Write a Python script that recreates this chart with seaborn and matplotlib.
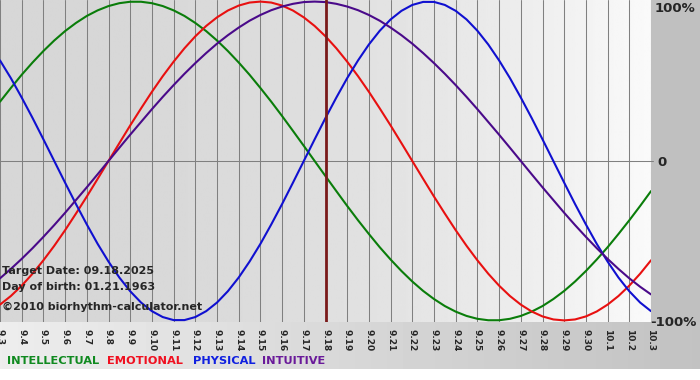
import numpy as np
import pandas as pd
import seaborn as sns
import matplotlib.pyplot as plt

# days shown on the x axis (Sep 3 .. Oct 3)
dates = ["9.3", "9.4", "9.5", "9.6", "9.7", "9.8", "9.9", "9.10", "9.11", "9.12",
         "9.13", "9.14", "9.15", "9.16", "9.17", "9.18", "9.19", "9.20", "9.21",
         "9.22", "9.23", "9.24", "9.25", "9.26", "9.27", "9.28", "9.29", "9.30",
         "10.1", "10.2", "10.3"]

# cycle values in percent, read every half day from 9.3 to 10.3
intellectual = [37.2, 45.8, 54.1, 61.8, 69.0, 75.6, 81.5, 86.6, 91.0, 94.5, 97.2, 99.0,
                99.9, 99.9, 99.0, 97.2, 94.5, 91.0, 86.6, 81.5, 75.6, 69.0, 61.8, 54.1,
                45.8, 37.2, 28.2, 18.9, 9.5, 0, -9.5, -18.9, -28.2, -37.2, -45.8, -54.1,
                -61.8, -69.0, -75.6, -81.5, -86.6, -91.0, -94.5, -97.2, -99.0, -99.9,
                -99.9, -99.0, -97.2, -94.5, -91.0, -86.6, -81.5, -75.6, -69.0, -61.8,
                -54.1, -45.8, -37.2, -28.2, -18.9]
emotional = [-90.1, -84.7, -78.2, -70.7, -62.3, -53.2, -43.4, -33.0, -22.3, -11.2, 0,
             11.2, 22.3, 33.0, 43.4, 53.2, 62.3, 70.7, 78.2, 84.7, 90.1, 94.4, 97.5, 99.4,
             100, 99.4, 97.5, 94.4, 90.1, 84.7, 78.2, 70.7, 62.3, 53.2, 43.4, 33.0, 22.3,
             11.2, 0, -11.2, -22.3, -33.0, -43.4, -53.2, -62.3, -70.7, -78.2, -84.7,
             -90.1, -94.4, -97.5, -99.4, -100, -99.4, -97.5, -94.4, -90.1, -84.7, -78.2,
             -70.7, -62.3]
physical = [63.1, 52.0, 39.8, 27.0, 13.6, 0, -13.6, -27.0, -39.8, -52.0, -63.1, -73.1,
            -81.7, -88.8, -94.2, -97.9, -99.8, -99.8, -97.9, -94.2, -88.8, -81.7, -73.1,
            -63.1, -52.0, -39.8, -27.0, -13.6, 0, 13.6, 27.0, 39.8, 52.0, 63.1, 73.1,
            81.7, 88.8, 94.2, 97.9, 99.8, 99.8, 97.9, 94.2, 88.8, 81.7, 73.1, 63.1, 52.0,
            39.8, 27.0, 13.6, 0, -13.6, -27.0, -39.8, -52.0, -63.1, -73.1, -81.7, -88.8,
            -94.2]
intuitive = [-73.6, -67.7, -61.4, -54.7, -47.6, -40.2, -32.5, -24.5, -16.5, -8.3, 0, 8.3,
             16.5, 24.5, 32.5, 40.2, 47.6, 54.7, 61.4, 67.7, 73.6, 78.9, 83.7, 88.0, 91.6,
             94.6, 96.9, 98.6, 99.7, 100, 99.7, 98.6, 96.9, 94.6, 91.6, 88.0, 83.7, 78.9,
             73.6, 67.7, 61.4, 54.7, 47.6, 40.2, 32.5, 24.5, 16.5, 8.3, 0, -8.3, -16.5,
             -24.5, -32.5, -40.2, -47.6, -54.7, -61.4, -67.7, -73.6, -78.9, -83.7]

target_day = "9.18"
target_text = "Target Date: 09.18.2025"
birth_text = "Day of birth: 01.21.1963"
credit_text = "\u00a92010 biorhythm-calculator.net"

series_names = ["INTELLECTUAL", "EMOTIONAL", "PHYSICAL", "INTUITIVE"]
line_colors = {"INTELLECTUAL": "#0a7d0a", "EMOTIONAL": "#e81010",
               "PHYSICAL": "#1010d0", "INTUITIVE": "#4a0a8a"}
label_colors = {"INTELLECTUAL": "#108a20", "EMOTIONAL": "#f01020",
                "PHYSICAL": "#1020e0", "INTUITIVE": "#6a1a9a"}

day_idx = list(range(len(dates)))
half_days = np.arange(len(physical)) / 2
df = pd.concat([
    pd.DataFrame({"day": half_days, "value": vals, "series": name})
    for name, vals in zip(series_names, [intellectual, emotional, physical, intuitive])
], ignore_index=True)

sns.set_style("white")
plt.rcParams["font.family"] = ["DejaVu Sans"]

W, H = 700, 380
fig = plt.figure(figsize=(7, 3.8), dpi=100)

# background: gray right margin, gradient strip under the plot
bg = fig.add_axes([0, 0, 1, 1], zorder=-5)
img = np.ones((H, W))
img[:322, 651:] = 0.75
cols = np.linspace(0, 1, W)
img[322:369, :] = 0.93 - 0.17 * cols
bg.imshow(img, cmap="gray", vmin=0, vmax=1, aspect="auto", extent=(0, W, H, 0))
bg.set_axis_off()

ax_top, ax_bot = 0, 322
ax = fig.add_axes([0, 1 - ax_bot / H, 651 / W, (ax_bot - ax_top) / H])
ax.set_xlim(0, len(dates) - 1)
ax.set_ylim(-101, 101)

grad = 0.84 + 0.14 * np.linspace(0, 1, 400) ** 2
ax.imshow(grad[None, :], cmap="gray", vmin=0, vmax=1, aspect="auto",
          extent=(0, len(dates) - 1, -101, 101), zorder=0)

ax.set_xticks(day_idx)
ax.set_xticklabels(dates, rotation=-90, fontsize=6.5, fontweight="bold")
ax.tick_params(axis="x", length=4, width=0.75, color="#808080", pad=1)
ax.set_yticks([])
ax.grid(axis="x", color="#808080", lw=0.75, zorder=1)
ax.set_axisbelow(False)
for s in ax.spines.values():
    s.set_visible(False)
ax.plot([0, len(dates) - 1 + 0.1], [0, 0], color="#808080", lw=0.75,
        clip_on=False, zorder=1)

sns.lineplot(data=df, x="day", y="value", hue="series", palette=line_colors,
             hue_order=series_names, legend=False, lw=1.5, ax=ax, zorder=3)
ax.axvline(dates.index(target_day), color="#7a1a1a", lw=2, zorder=4)
ax.set_xlabel("")
ax.set_ylabel("")

# right side percentage labels
fs_r = 9.5
fig.text(655 / W, 1 - 8 / H, "100%", fontsize=fs_r, fontweight="bold", va="center")
fig.text(657 / W, 1 - 162 / H, "0", fontsize=fs_r, fontweight="bold", va="center")
fig.text(650 / W, 1 - 322 / H, "-100%", fontsize=fs_r, fontweight="bold", va="center")

# info text inside the chart
fig.text(2 / W, 1 - 271 / H, target_text, fontsize=8, fontweight="bold", va="center")
fig.text(2 / W, 1 - 287 / H, birth_text, fontsize=8, fontweight="bold", va="center")
fig.text(2 / W, 1 - 307 / H, credit_text, fontsize=8, fontweight="bold", va="center")

# legend row
for name, x in zip(series_names, [7, 107, 193, 262]):
    fig.text(x / W, 1 - 361 / H, name, fontsize=8.2, fontweight="bold",
             color=label_colors[name], va="center")

fig.savefig("out.png", dpi=100)
